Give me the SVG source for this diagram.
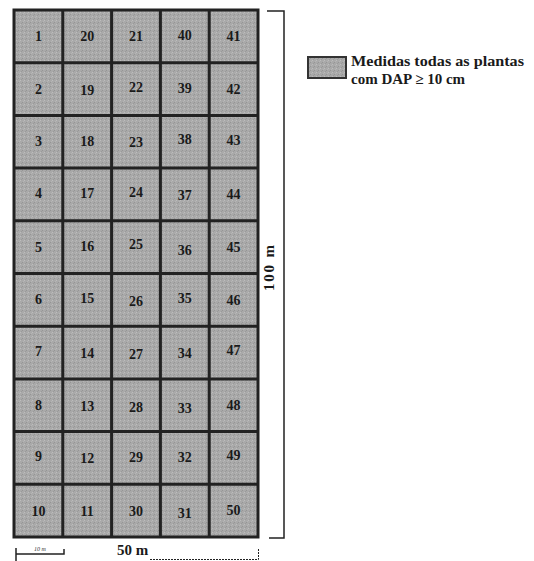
<svg xmlns="http://www.w3.org/2000/svg" width="534" height="561" viewBox="0 0 534 561">
<style>
.num{font-family:"Liberation Serif","Times New Roman","DejaVu Serif",serif;font-weight:bold;font-size:14px;fill:#1a1a1a;text-anchor:middle}
.lbl{font-family:"Liberation Serif","Times New Roman","DejaVu Serif",serif;font-weight:bold;font-size:15px;fill:#1a1a1a}
.ln{stroke:#222;fill:none}
</style>
<defs>
<pattern id="tex" width="4" height="4" patternUnits="userSpaceOnUse">
<rect width="4" height="4" fill="#a9a9a9"/>
<rect x="0" y="0" width="1" height="1" fill="#bdbdbd"/>
<rect x="2" y="2" width="1" height="1" fill="#959595"/>
<rect x="3" y="1" width="1" height="1" fill="#b5b5b5"/>
<rect x="1" y="3" width="1" height="1" fill="#9a9a9a"/>
</pattern>
</defs>
<rect width="534" height="561" fill="#fff"/>
<g id="grid">
<rect x="14" y="10" width="244" height="527" fill="url(#tex)"/>
<g class="ln" stroke="#111" stroke-width="3">
<rect x="14" y="10" width="244" height="527"/>
<path d="M62.8 10V537M111.6 10V537M160.4 10V537M209.2 10V537"/>
<path d="M14 62.7H258M14 115.4H258M14 168.1H258M14 220.8H258M14 273.5H258M14 326.2H258M14 378.9H258M14 431.6H258M14 484.3H258"/>
</g>
</g>
<g id="numbers" class="num">
<text x="38.4" y="41">1</text><text x="87.2" y="41">20</text><text x="136" y="41">21</text><text x="184.8" y="40">40</text><text x="233.6" y="41">41</text>
<text x="38.4" y="94">2</text><text x="87.2" y="95">19</text><text x="136" y="92">22</text><text x="184.8" y="93">39</text><text x="233.6" y="94">42</text>
<text x="38.4" y="146">3</text><text x="87.2" y="146">18</text><text x="136" y="147">23</text><text x="184.8" y="144">38</text><text x="233.6" y="145">43</text>
<text x="38.4" y="198">4</text><text x="87.2" y="198">17</text><text x="136" y="197">24</text><text x="184.8" y="200">37</text><text x="233.6" y="199">44</text>
<text x="38.4" y="252">5</text><text x="87.2" y="251">16</text><text x="136" y="249">25</text><text x="184.8" y="255">36</text><text x="233.6" y="252">45</text>
<text x="38.4" y="304">6</text><text x="87.2" y="303">15</text><text x="136" y="306">26</text><text x="184.8" y="303">35</text><text x="233.6" y="305">46</text>
<text x="38.4" y="356">7</text><text x="87.2" y="358">14</text><text x="136" y="359">27</text><text x="184.8" y="358">34</text><text x="233.6" y="355">47</text>
<text x="38.4" y="410">8</text><text x="87.2" y="411">13</text><text x="136" y="412">28</text><text x="184.8" y="413">33</text><text x="233.6" y="410">48</text>
<text x="38.4" y="461">9</text><text x="87.2" y="463">12</text><text x="136" y="462">29</text><text x="184.8" y="462">32</text><text x="233.6" y="460">49</text>
<text x="38.4" y="516">10</text><text x="87.2" y="516">11</text><text x="136" y="516">30</text><text x="184.8" y="518">31</text><text x="233.6" y="515">50</text>
</g>
<g id="dim-100m">
<path class="ln" stroke-width="1.5" d="M267 11H284V538H269"/>
<text class="lbl" transform="translate(274 268) rotate(-90)" text-anchor="middle" textLength="46" lengthAdjust="spacing">100 m</text>
</g>
<g id="dim-50m">
<path class="ln" stroke-width="1.5" d="M16 548V561M16 554H64V549"/>
<text x="40" y="551" font-family="Liberation Serif,serif" font-size="6" font-style="italic" fill="#333" text-anchor="middle">10 m</text>
<text class="lbl" x="117" y="555" font-size="14">50 m</text>
<path class="ln" stroke-width="1" stroke-dasharray="2 1" d="M150 559.5H258.5V548"/>
</g>
<g id="legend">
<rect x="308" y="57" width="38" height="21" fill="url(#tex)" stroke="#333" stroke-width="2"/>
<text class="lbl" x="351" y="66" textLength="173" lengthAdjust="spacingAndGlyphs">Medidas todas as plantas</text>
<text class="lbl" x="351" y="84" font-size="14">com DAP ≥ 10 cm</text>
</g>
</svg>
